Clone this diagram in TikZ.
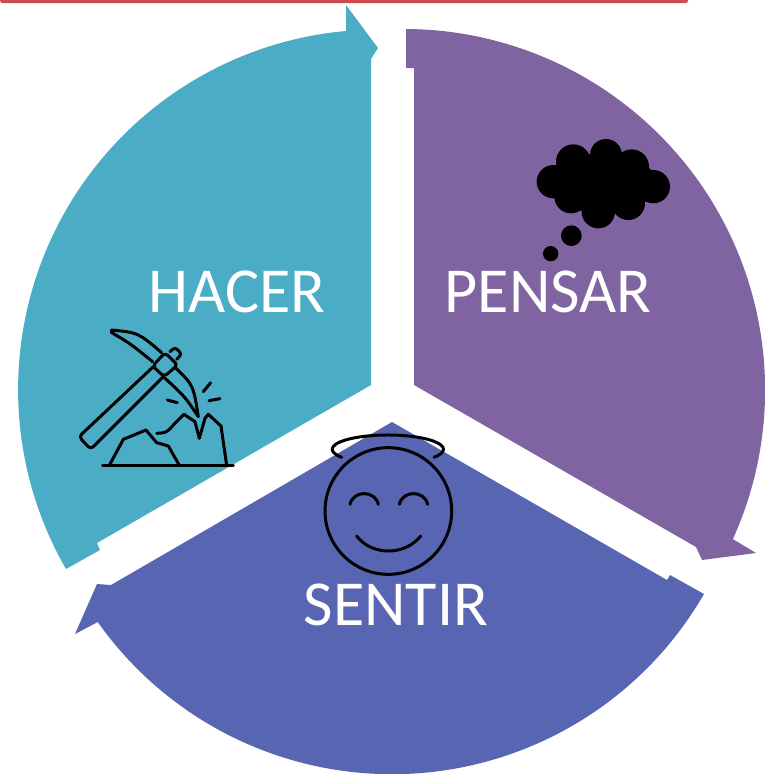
\documentclass[tikz,border=0pt]{standalone}
\usepackage{fontspec}
\setmainfont{Carlito}
\definecolor{hacercol}{HTML}{4BACC6}
\definecolor{pensarcol}{HTML}{8064A2}
\definecolor{sentircol}{HTML}{5865B2}
\definecolor{barcol}{HTML}{C94F4F}
\tikzset{
    word/.style={text=white,font=\fontsize{36.5}{40}\selectfont,inner sep=0pt},
    icon/.style={draw=black,line width=1.7pt,line join=round,line cap=round},
    blob/.style={fill=black}
}

\begin{document}
\begin{tikzpicture}[x=0.02cm,y=-0.02cm]
    \useasboundingbox (0,0) rectangle (764,774);
    \fill[barcol,rounded corners=1pt] (0,-5) rectangle (688,3);

    % the three arrows
    \fill[hacercol] (66,569) arc[start angle=150.1,end angle=264.9,radius=360] -- (346,5) -- (378,48)
        -- (371,59) -- (371,385) -- (97,543) -- (100,550) -- cycle;
    \fill[pensarcol] (406,29) arc[start angle=-89.7,end angle=24.4,radius=361] -- (756,553) -- (702,560)
        -- (696,547) -- (414,385) -- (414,68) -- (406,68) -- cycle;
    \fill[sentircol] (704,594) arc[start angle=30,end angle=144.7,radius=360.4] -- (75,634) -- (97,584)
        -- (111,585) -- (392,422) -- (667,580) -- (670,575) -- cycle;

    \node[word] (hacer) at (237,292) {HACER};
    \node[word] (pensar) at (548,292) {PENSAR};
    \node[word] (sentir) at (396,605) {SENTIR};

    % pick and rocks
    \begin{scope}[shift={(60,310)},scale=1/3]
        \draw[icon,rounded corners=2pt] (280,170) -- (57,380) -- (92,418) -- (310,200);
        \draw[icon,rounded corners=2pt] (278,168) -- (315,128) -- (353,165) -- (312,200) -- cycle;
        \draw[icon,rounded corners=1.5pt] (330,125) -- (345,112) -- (365,132) -- (350,148);
        \draw[icon] (305,128) .. controls (235,68) .. (155,60) -- (155,68) .. controls (210,100) .. (278,155);
        \draw[icon] (345,172) .. controls (400,225) .. (415,320) .. controls (375,260) .. (312,202);
        \draw[icon] (128,466) -- (520,466);
        \draw[icon] (148,466) -- (190,388) -- (258,360) -- (290,398) -- (325,408) -- (358,466);
        \draw[icon] (290,370) .. controls (320,368) .. (340,345) -- (372,313) -- (405,335) -- (418,385)
            -- (435,325) -- (445,313) -- (483,348) -- (500,466);
        \draw[icon] (322,270) -- (352,278);
        \draw[icon] (430,245) -- (452,218);
        \draw[icon] (447,272) -- (480,266);
    \end{scope}

    % thought cloud
    \begin{scope}[shift={(510,120)},scale=1/3]
        \foreach \blobx/\bloby/\blobr in {130/185/50,190/125/52,288/105/48,365/140/52,430/200/50,355/250/50,265/275/50,183/230/50,184/347/31,122/401/23}
            \fill[blob] (\blobx,\bloby) circle[radius=\blobr];
        \fill[blob] (280,190) ellipse[x radius=160,y radius=90];
    \end{scope}

    % face with halo
    \begin{scope}[shift={(300,410)},scale=1/3]
        \draw[icon] (265,303) circle[radius=190];
        \draw[icon] (150,283) .. controls (160,240) and (225,240) .. (235,283);
        \draw[icon] (298,283) .. controls (308,240) and (373,240) .. (383,283);
        \draw[icon] (170,378) .. controls (215,438) and (315,438) .. (362,378);
        \draw[icon] (125,142) arc[start angle=146,end angle=394,x radius=167,y radius=43];
    \end{scope}
\end{tikzpicture}
\end{document}
